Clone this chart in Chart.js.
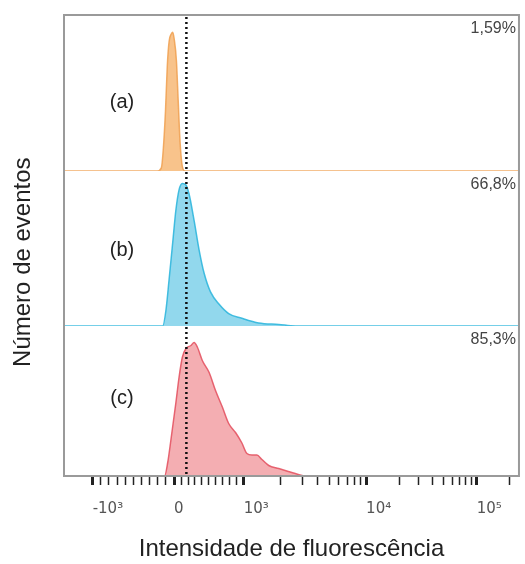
<!DOCTYPE html>
<html>
<head>
<meta charset="utf-8">
<script src="https://cdn.jsdelivr.net/npm/chart.js@4.4.1/dist/chart.umd.min.js"></script>
<style>
  html, body { margin: 0; padding: 0; background: #fff; }
  #wrap { width: 525px; height: 564px; }
</style>
</head>
<body>
<div id="wrap"><canvas id="myChart"></canvas></div>
<script>
// histogram data, x in channel units (0-1000), y = relative number of events
var channelsA = [0, 205, 214, 218, 223, 227, 231, 236, 239, 242, 247, 251, 255, 260, 266, 1000];
var countsA   = [0,   0,   2,  13,  38,  67,  83,  88,  89,  85,  71,  45,  19,   3,   0,    0];

var channelsB = [0, 217, 224, 231, 239, 246, 253, 260, 268, 275, 286, 297, 308, 322, 341, 362, 391, 428, 472, 508, 1000];
var countsB   = [0,   0,  10,  30,  54,  75,  88,  92,  91,  85,  68,  49,  34,  22,  14,   8,   5,   2,   1,   0,    0];

var channelsC = [0, 221, 228, 235, 246, 253, 260, 268, 279, 286, 293, 304, 319, 333, 348, 362, 377, 391, 402, 413, 424, 435, 450, 472, 493, 515, 530, 1000];
var countsC   = [0,   0,   9,  24,  49,  66,  79,  85,  87,  89,  86,  77,  69,  57,  46,  35,  29,  22,  15,  14,  14,  11,   7,   5,   3,   1,   0,    0];

// axis ticks (channel position of each decade) and their labels
var majorTicks = [63, 242, 395, 664, 907];
var majorLabels = ['-10³', '0', '10³', '10⁴', '10⁵'];

var panelNames = ['(a)', '(b)', '(c)'];
var panelPercents = ['1,59%', '66,8%', '85,3%'];
var gateChannel = 269;

// minor ticks: linear around zero, log inside each decade
function buildTicks() {
    var out = majorTicks.slice();
    for (var k = 1; k < 10; k++) {
        out.push(majorTicks[0] + (majorTicks[1] - majorTicks[0]) * k / 10);
        out.push(majorTicks[1] + (majorTicks[2] - majorTicks[1]) * k / 10);
    }
    for (var d = 2; d < 5; d++) {
        var span = d < 4 ? majorTicks[d + 1] - majorTicks[d] : majorTicks[4] - majorTicks[3];
        for (var m = 2; m < 10; m++) {
            var v = majorTicks[d] + span * Math.log10(m);
            if (v < 1000) out.push(v);
        }
    }
    return out.sort(function (a, b) { return a - b; });
}
var allTicks = buildTicks();

function toPoints(xs, ys) {
    var pts = [];
    for (var i = 0; i < xs.length; i++) pts.push({x: xs[i], y: ys[i]});
    return pts;
}

var panelAxes = ['ya', 'yb', 'yc'];

var overlayPlugin = {
    id: 'overlay',
    afterDatasetsDraw: function (chart) {
        var ctx = chart.ctx;
        var area = chart.chartArea;
        var xs = chart.scales.x;
        var labelFrac = [0.56, 0.51, 0.48];

        ctx.save();
        // panel labels and percentages
        for (var i = 0; i < panelAxes.length; i++) {
            var sc = chart.scales[panelAxes[i]];
            ctx.fillStyle = '#222';
            ctx.font = '20px "Liberation Sans", Arial, sans-serif';
            ctx.textAlign = 'center';
            ctx.textBaseline = 'middle';
            ctx.fillText(panelNames[i], area.left + 58, sc.top + (sc.bottom - sc.top) * labelFrac[i]);

            ctx.fillStyle = '#444';
            ctx.font = '16px "Liberation Sans", Arial, sans-serif';
            ctx.textAlign = 'right';
            ctx.fillText(panelPercents[i], area.right - 3, sc.top + 14);
        }

        // gate line
        var gx = xs.getPixelForValue(gateChannel);
        ctx.strokeStyle = '#111';
        ctx.lineWidth = 2.5;
        ctx.setLineDash([2, 3]);
        ctx.beginPath();
        ctx.moveTo(gx, area.top + 2);
        ctx.lineTo(gx, area.bottom - 2);
        ctx.stroke();
        ctx.setLineDash([]);

        // frame
        ctx.strokeStyle = '#9a9a9a';
        ctx.lineWidth = 2;
        ctx.strokeRect(area.left, area.top, area.right - area.left, area.bottom - area.top);
        ctx.restore();
    }
};

var myChart = new Chart(document.getElementById('myChart'), {
    type: 'line',
    data: {
        datasets: [
            {
                label: '(a)',
                data: toPoints(channelsA, countsA),
                yAxisID: 'ya',
                borderColor: 'rgba(240,160,80,0.85)',
                backgroundColor: 'rgba(245,175,100,0.75)',
                borderWidth: 1.5,
                fill: 'origin'
            },
            {
                label: '(b)',
                data: toPoints(channelsB, countsB),
                yAxisID: 'yb',
                borderColor: 'rgba(40,180,220,0.85)',
                backgroundColor: 'rgba(100,200,230,0.7)',
                borderWidth: 1.5,
                fill: 'origin'
            },
            {
                label: '(c)',
                data: toPoints(channelsC, countsC),
                yAxisID: 'yc',
                borderColor: 'rgba(228,85,100,0.9)',
                backgroundColor: 'rgba(240,140,145,0.7)',
                borderWidth: 1.5,
                fill: 'origin'
            }
        ]
    },
    options: {
        responsive: true,
        maintainAspectRatio: false,
        animation: false,
        layout: { padding: { top: 15, right: 3, left: 0, bottom: 0 } },
        elements: {
            point: { radius: 0 },
            line: { cubicInterpolationMode: 'monotone' }
        },
        plugins: {
            legend: { display: false },
            tooltip: { enabled: false }
        },
        scales: {
            x: {
                type: 'linear',
                position: 'bottom',
                min: 0,
                max: 1000,
                afterBuildTicks: function (scale) {
                    scale.ticks = allTicks.map(function (v) { return {value: v}; });
                },
                afterFit: function (scale) { scale.height = 88; },
                ticks: {
                    autoSkip: false,
                    maxRotation: 0,
                    minRotation: 0,
                    align: 'start',
                    padding: 15,
                    color: '#555',
                    font: { family: 'DejaVu Sans', size: 15 },
                    callback: function (value) {
                        var i = majorTicks.indexOf(value);
                        return i >= 0 ? majorLabels[i] : '';
                    }
                },
                grid: {
                    drawOnChartArea: false,
                    drawTicks: true,
                    tickLength: 9,
                    tickColor: '#222',
                    tickWidth: function (ctx) {
                        return ctx.tick && majorTicks.indexOf(ctx.tick.value) >= 0 ? 3 : 1.5;
                    }
                },
                border: { display: false },
                title: {
                    display: true,
                    text: 'Intensidade de fluorescência',
                    color: '#222',
                    font: { family: '"Liberation Sans", Arial, sans-serif', size: 24 },
                    padding: { top: 0, bottom: 0 }
                }
            },
            yTitle: {
                type: 'linear',
                position: 'left',
                min: 0,
                max: 1,
                afterFit: function (scale) { scale.width = 64; },
                ticks: { display: false },
                grid: { display: false },
                border: { display: false },
                title: {
                    display: true,
                    text: 'Número de eventos     ',
                    color: '#222',
                    font: { family: '"Liberation Sans", Arial, sans-serif', size: 24 },
                    padding: { top: 9, bottom: 0 }
                }
            },
            ya: { type: 'linear', position: 'right', stack: 'panels', stackWeight: 156, min: 0, max: 100, display: false },
            yb: { type: 'linear', position: 'right', stack: 'panels', stackWeight: 155, min: 0, max: 100, display: false },
            yc: { type: 'linear', position: 'right', stack: 'panels', stackWeight: 150, min: 0, max: 100, display: false }
        }
    },
    plugins: [overlayPlugin]
});
</script>
</body>
</html>
